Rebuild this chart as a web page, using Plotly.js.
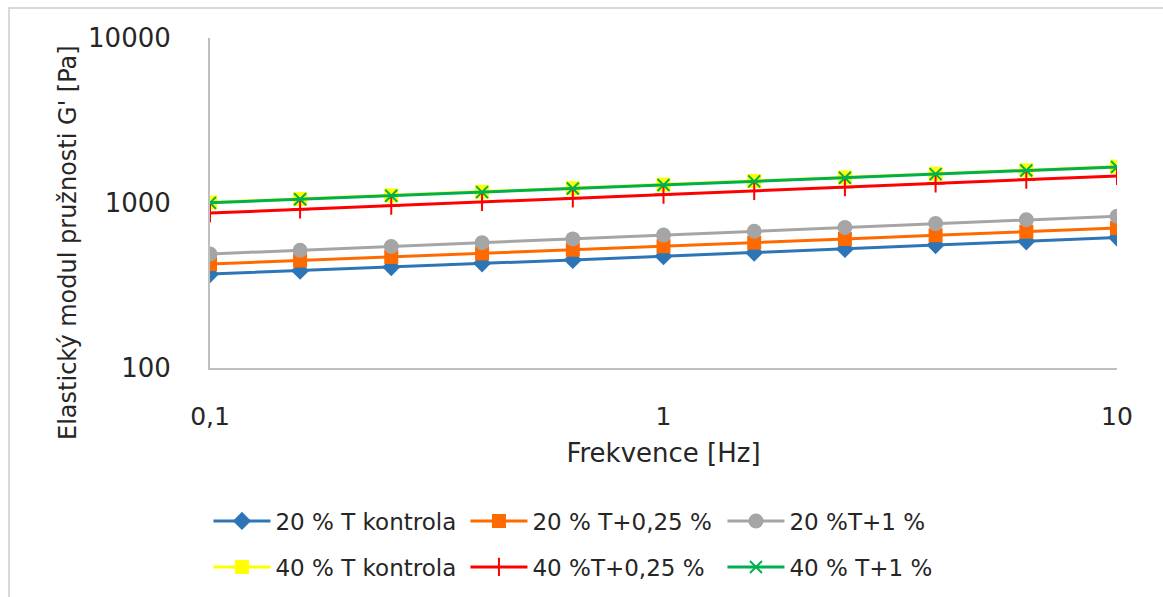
<!DOCTYPE html>
<html>
<head>
<meta charset="utf-8">
<script src="https://cdn.plot.ly/plotly-3.0.1.min.js"></script>
<style>
html,body{margin:0;padding:0;background:#fff;}
#wrap{position:relative;width:1163px;height:597px;overflow:hidden;}
#chart{position:absolute;left:0;top:0;width:1163px;height:597px;}
#frame{position:absolute;left:8px;top:7px;width:1170px;height:610px;border-left:2px solid #d9d9d9;border-top:2px solid #d9d9d9;pointer-events:none;}
</style>
</head>
<body>
<div id="wrap"><div id="chart"></div><div id="frame"></div></div>
<script>
// Frequency [Hz]
const freq = [0.1, 0.158, 0.251, 0.398, 0.631, 1, 1.585, 2.512, 3.981, 6.31, 10];

// Series values G' [Pa]
const s20_kontrola = [371, 389, 409, 431, 452, 476, 500, 527, 556, 586, 617];
const s20_025      = [427, 448, 471, 495, 521, 547, 575, 605, 637, 670, 705];
const s20_1        = [491, 517, 545, 574, 606, 639, 674, 711, 750, 791, 832];
const s40_kontrola = [1008, 1058, 1112, 1170, 1230, 1293, 1359, 1429, 1502, 1580, 1662];
const s40_025      = [869, 915, 963, 1014, 1068, 1124, 1184, 1247, 1313, 1383, 1458];
const s40_1        = [1002, 1053, 1107, 1164, 1224, 1287, 1353, 1423, 1496, 1573, 1654];

const names = ["20 % T kontrola", "20 % T+0,25 %", "20 %T+1 %", "40 % T kontrola", "40 %T+0,25 %", "40 % T+1 %"];

const xTickVals = [0.1, 1, 10];
const xTickText = ["0,1", "1", "10"];
const yTickVals = [100, 1000, 10000];
const yTickText = ["100", "1000", "10000"];

const xTitle = "Frekvence [Hz]";
const yTitle = "Elastický modul pružnosti G' [Pa]";

const lw = 3;
const traces = [
  {x: freq, y: s20_kontrola, name: names[0], legend: "legend",
   mode: "lines+markers", line: {color: "#2E75B6", width: lw},
   marker: {symbol: "diamond", size: 14, color: "#2E75B6"}},
  {x: freq, y: s20_025, name: names[1], legend: "legend",
   mode: "lines+markers", line: {color: "#FF6A00", width: lw},
   marker: {symbol: "square", size: 14, color: "#FF6A00"}},
  {x: freq, y: s20_1, name: names[2], legend: "legend",
   mode: "lines+markers", line: {color: "#A5A5A5", width: lw},
   marker: {symbol: "circle", size: 15, color: "#A5A5A5"}},
  {x: freq, y: s40_kontrola, name: names[3], legend: "legend2",
   mode: "lines+markers", line: {color: "#FFFF00", width: lw},
   marker: {symbol: "square", size: 14, color: "#FFFF00"}},
  {x: freq, y: s40_025, name: names[4], legend: "legend2",
   mode: "lines+markers", line: {color: "#FF0000", width: lw},
   marker: {symbol: "cross-thin", size: 13, line: {color: "#FF0000", width: 2}}},
  {x: freq, y: s40_1, name: names[5], legend: "legend2",
   mode: "lines+markers", line: {color: "#00B050", width: lw},
   marker: {symbol: "x-thin", size: 12, line: {color: "#00B050", width: 2}}}
];

const font = "DejaVu Sans, sans-serif";

const layout = {
  width: 1163, height: 597,
  paper_bgcolor: "#ffffff", plot_bgcolor: "#ffffff",
  margin: {l: 210, r: 46, t: 38, b: 229, autoexpand: false},
  showlegend: true,
  xaxis: {
    type: "log", range: [-1, 1],
    tickvals: xTickVals, ticktext: xTickText,
    showgrid: false, zeroline: false,
    showline: true, linecolor: "#BFBFBF", linewidth: 2,
    ticks: "", ticklabelstandoff: 25,
    tickfont: {family: font, size: 25, color: "#262626"},
    title: {text: xTitle, standoff: 14, font: {family: font, size: 26, color: "#262626"}}
  },
  yaxis: {
    type: "log", range: [2, 4],
    tickvals: yTickVals, ticktext: yTickText,
    showgrid: false, zeroline: false,
    showline: true, linecolor: "#BFBFBF", linewidth: 2,
    ticks: "", ticklabelstandoff: 32,
    tickfont: {family: font, size: 26, color: "#262626"}
  },
  annotations: [{
    text: yTitle, textangle: -90, showarrow: false,
    xref: "paper", yref: "paper", x: -0.1566, y: 0.3818,
    xanchor: "center", yanchor: "middle",
    font: {family: font, size: 24, color: "#262626"}
  }],
  legend: {
    orientation: "h", x: -0.0017, xanchor: "left", y: -0.4636, yanchor: "middle",
    entrywidth: 185, itemwidth: 57, bgcolor: "rgba(0,0,0,0)",
    font: {family: font, size: 23, color: "#262626"}
  },
  legend2: {
    orientation: "h", x: -0.0017, xanchor: "left", y: -0.603, yanchor: "middle",
    entrywidth: 185, itemwidth: 57, bgcolor: "rgba(0,0,0,0)",
    font: {family: font, size: 23, color: "#262626"}
  }
};

Plotly.newPlot("chart", traces, layout, {displayModeBar: false, staticPlot: true});
</script>
</body>
</html>
